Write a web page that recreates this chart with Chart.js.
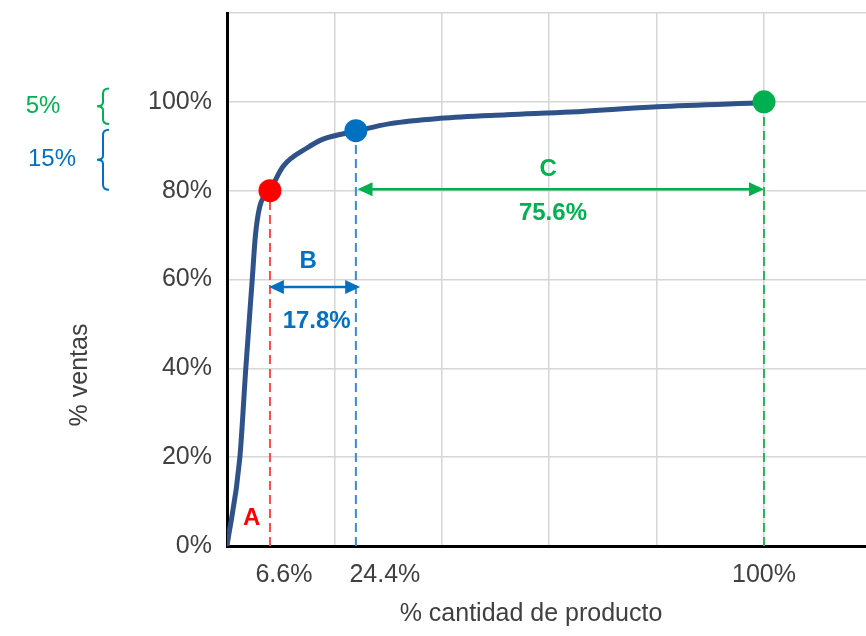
<!DOCTYPE html>
<html lang="es">
<head>
    <meta charset="UTF-8">
    <title>Curva ABC</title>
    <script src="https://cdn.jsdelivr.net/npm/chart.js"></script>
    <style>
        body { margin: 0; background: #fff; }
    </style>
</head>
<body>
    <canvas id="abcChart" width="866" height="636"></canvas>

    <script>
        // curve (% cantidad de producto, % ventas)
        const curveX = [0, 2.4, 3.5, 4.7, 5.3, 6.1, 8, 10.4, 14.9, 17.9, 24, 30.4, 39.7, 52.1, 63.9, 80.1, 100];
        const curveY = [0, 20, 40, 60, 70, 76.4, 80, 85.4, 89.6, 91.6, 93.4, 95.1, 96.3, 97.1, 97.7, 98.9, 99.8];

        // the three marked points A / B / C
        const markerX = [8, 24, 100];
        const markerY = [80, 93.5, 100];

        // ticks
        const yTicks = [0, 20, 40, 60, 80, 100, 120];
        const yTickLabels = ['0%', '20%', '40%', '60%', '80%', '100%', ''];
        const xGrid = [0, 20, 40, 60, 80, 100];
        const xTickLabelAt = [10.6, 29.4, 100];
        const xTickLabels = ['6.6%', '24.4%', '100%'];

        // annotations
        const arrowB = [7.8, 24.8, 58.3];   // from x, to x, at y
        const arrowC = [24.3, 100, 80.3];
        const noteText = ['A', 'B', '17.8%', 'C', '75.6%'];
        const noteX = [4.6, 15.1, 16.7, 59.8, 60.7];
        const noteY = [6.3, 64, 50.5, 84.7, 75];
        const braceText = ['5%', '15%'];
        const braceFrom = [103, 93.7];
        const braceTo = [95, 80.2];

        const RED = '#ff0000', BLUE = '#0070c0', GREEN = '#00b050';
        const noteColors = [RED, BLUE, BLUE, GREEN, GREEN];
        const FONT = "'Liberation Sans', Arial, sans-serif";

        const pts = (xs, ys) => xs.map((x, i) => ({ x: x, y: ys[i] }));
        const drop = i => [{ x: markerX[i], y: 0 }, { x: markerX[i], y: markerY[i] }];

        function arrowHead(ctx, x, y, dir, color) {
            ctx.fillStyle = color;
            ctx.beginPath();
            ctx.moveTo(x, y);
            ctx.lineTo(x - dir * 15, y - 7);
            ctx.lineTo(x - dir * 15, y + 7);
            ctx.closePath();
            ctx.fill();
        }

        function brace(ctx, x, yTop, yBot, color) {
            const mid = (yTop + yBot) / 2;
            ctx.strokeStyle = color;
            ctx.lineWidth = 2;
            ctx.beginPath();
            ctx.moveTo(x + 6, yTop);
            ctx.quadraticCurveTo(x, yTop, x, yTop + 5);
            ctx.lineTo(x, mid - 4);
            ctx.quadraticCurveTo(x, mid, x - 6, mid);
            ctx.quadraticCurveTo(x, mid, x, mid + 4);
            ctx.lineTo(x, yBot - 5);
            ctx.quadraticCurveTo(x, yBot, x + 6, yBot);
            ctx.stroke();
        }

        const annotate = {
            id: 'annotate',
            afterDatasetsDraw(chart) {
                const ctx = chart.ctx;
                const xs = chart.scales.x, ys = chart.scales.y;
                ctx.save();

                // dimension arrows
                [[arrowB, BLUE], [arrowC, GREEN]].forEach(([a, color]) => {
                    const x1 = xs.getPixelForValue(a[0]);
                    const x2 = xs.getPixelForValue(a[1]);
                    const y = ys.getPixelForValue(a[2]);
                    ctx.strokeStyle = color;
                    ctx.lineWidth = 2.5;
                    ctx.beginPath();
                    ctx.moveTo(x1 + 10, y);
                    ctx.lineTo(x2 - 10, y);
                    ctx.stroke();
                    arrowHead(ctx, x1, y, -1, color);
                    arrowHead(ctx, x2, y, 1, color);
                });

                // bold labels
                ctx.font = 'bold 24px ' + FONT;
                ctx.textAlign = 'center';
                ctx.textBaseline = 'middle';
                noteText.forEach((t, i) => {
                    ctx.fillStyle = noteColors[i];
                    ctx.fillText(t, xs.getPixelForValue(noteX[i]), ys.getPixelForValue(noteY[i]));
                });
                ctx.restore();
            },
            afterDraw(chart) {
                const ctx = chart.ctx;
                const ys = chart.scales.y;
                ctx.save();

                // braces left of the y axis
                const braceColors = [GREEN, BLUE];
                const braceTextX = [43, 52];
                ctx.font = '24px ' + FONT;
                ctx.textAlign = 'center';
                ctx.textBaseline = 'middle';
                braceText.forEach((t, i) => {
                    const y1 = ys.getPixelForValue(braceFrom[i]);
                    const y2 = ys.getPixelForValue(braceTo[i]);
                    brace(ctx, 103, y1, y2, braceColors[i]);
                    ctx.fillStyle = braceColors[i];
                    ctx.fillText(t, braceTextX[i], (y1 + y2) / 2);
                });

                // axis titles
                ctx.fillStyle = '#404040';
                ctx.font = '25px ' + FONT;
                ctx.fillText('% cantidad de producto', 531, 614);
                ctx.translate(80, 375);
                ctx.rotate(-Math.PI / 2);
                ctx.fillText('% ventas', 0, 0);
                ctx.restore();
            }
        };

        const ctx = document.getElementById('abcChart').getContext('2d');
        new Chart(ctx, {
            type: 'scatter',
            data: {
                datasets: [
                    {
                        data: pts(markerX, markerY),
                        pointRadius: 11.5,
                        pointHoverRadius: 11.5,
                        pointBackgroundColor: [RED, BLUE, GREEN],
                        pointBorderWidth: 0,
                        clip: false
                    },
                    {
                        data: pts(curveX, curveY),
                        showLine: true,
                        borderColor: '#2f5289',
                        borderWidth: 5,
                        pointRadius: 0,
                        cubicInterpolationMode: 'monotone'
                    },
                    { data: drop(0), showLine: true, borderColor: '#ff4d4d', borderWidth: 2, borderDash: [9, 5], pointRadius: 0 },
                    { data: drop(1), showLine: true, borderColor: '#3a8ad4', borderWidth: 2, borderDash: [9, 5], pointRadius: 0 },
                    { data: drop(2), showLine: true, borderColor: '#2cb25c', borderWidth: 2, borderDash: [9, 5], pointRadius: 0 }
                ]
            },
            options: {
                responsive: false,
                animation: false,
                layout: { autoPadding: false, padding: { top: 13, right: 0, bottom: 0, left: 0 } },
                plugins: {
                    legend: { display: false },
                    tooltip: { enabled: false }
                },
                scales: {
                    x: {
                        type: 'linear',
                        min: 0,
                        max: 119,
                        afterBuildTicks: s => { s.ticks = xGrid.concat(xTickLabelAt.slice(0, 2)).sort((a, b) => a - b).map(v => ({ value: v })); },
                        afterFit: s => { s.height = 90; s.paddingLeft = 0; s.paddingRight = 0; },
                        grid: {
                            drawTicks: false,
                            lineWidth: 1.5,
                            color: c => (c.tick && xGrid.includes(c.tick.value)) ? '#d6d6d6' : 'rgba(0,0,0,0)'
                        },
                        border: { color: '#000', width: 3 },
                        ticks: {
                            autoSkip: false,
                            maxRotation: 0,
                            padding: 14,
                            color: '#404040',
                            font: { family: FONT, size: 25 },
                            callback: v => {
                                const i = xTickLabelAt.indexOf(v);
                                return i >= 0 ? xTickLabels[i] : '';
                            }
                        }
                    },
                    y: {
                        min: 0,
                        max: 120,
                        afterBuildTicks: s => { s.ticks = yTicks.map(v => ({ value: v })); },
                        afterFit: s => { s.width = 227; s.paddingTop = 0; s.paddingBottom = 0; },
                        grid: { drawTicks: false, lineWidth: 1.5, color: '#d6d6d6' },
                        border: { color: '#000', width: 3 },
                        ticks: {
                            padding: 15,
                            color: '#404040',
                            font: { family: FONT, size: 25 },
                            callback: v => yTickLabels[yTicks.indexOf(v)]
                        }
                    }
                }
            },
            plugins: [annotate]
        });
    </script>
</body>
</html>
